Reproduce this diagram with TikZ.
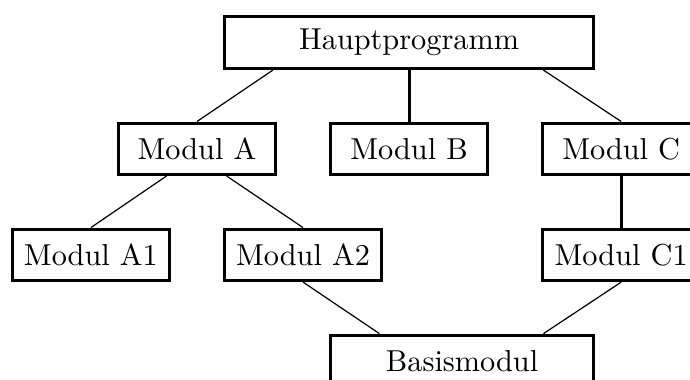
\documentclass[tikz,border=0pt]{standalone}
\usepackage{tikz}
\usetikzlibrary{positioning, calc}

\begin{document}
\begin{tikzpicture}[
  box/.style={rectangle, draw, line width=1pt,
              minimum width=52pt, minimum height=17pt, inner sep=3pt},
  root/.style={box, minimum width=122pt},
  base/.style={box, minimum width=87pt},
  conn/.style={line width=0.4pt},
  vconn/.style={line width=1pt},
  node distance=17pt and 17pt
]
  \useasboundingbox (-135pt,14.1pt) rectangle (92.7pt,-111.3pt);
  \node[root] (h) {Hauptprogramm};
  \node[box, below=of h] (b) {Modul B};
  \node[box, left=of b] (a) {Modul A};
  \node[box, right=of b] (c) {Modul C};
  \node[box, below=of a, xshift=-35pt] (a1) {Modul A1};
  \node[box, right=of a1] (a2) {Modul A2};
  \node[box, below=of c] (c1) {Modul C1};
  \coordinate (m) at ($(a2.south)!0.5!(c1.south)$);
  \node[base, below=of m] (bm) {Basismodul};
  \draw[conn] ($(h.south)!0.73!(h.south west)$) -- (a.north);
  \draw[vconn] (h) -- (b);
  \draw[conn] ($(h.south)!0.72!(h.south east)$) -- (c.north);
  \draw[conn] ($(a.south)!0.38!(a.south west)$) -- (a1.north);
  \draw[conn] ($(a.south)!0.37!(a.south east)$) -- (a2.north);
  \draw[vconn] (c) -- (c1);
  \draw[conn] (a2.south) -- ($(bm.north)!0.62!(bm.north west)$);
  \draw[conn] (c1.south) -- ($(bm.north)!0.61!(bm.north east)$);
\end{tikzpicture}
\end{document}
